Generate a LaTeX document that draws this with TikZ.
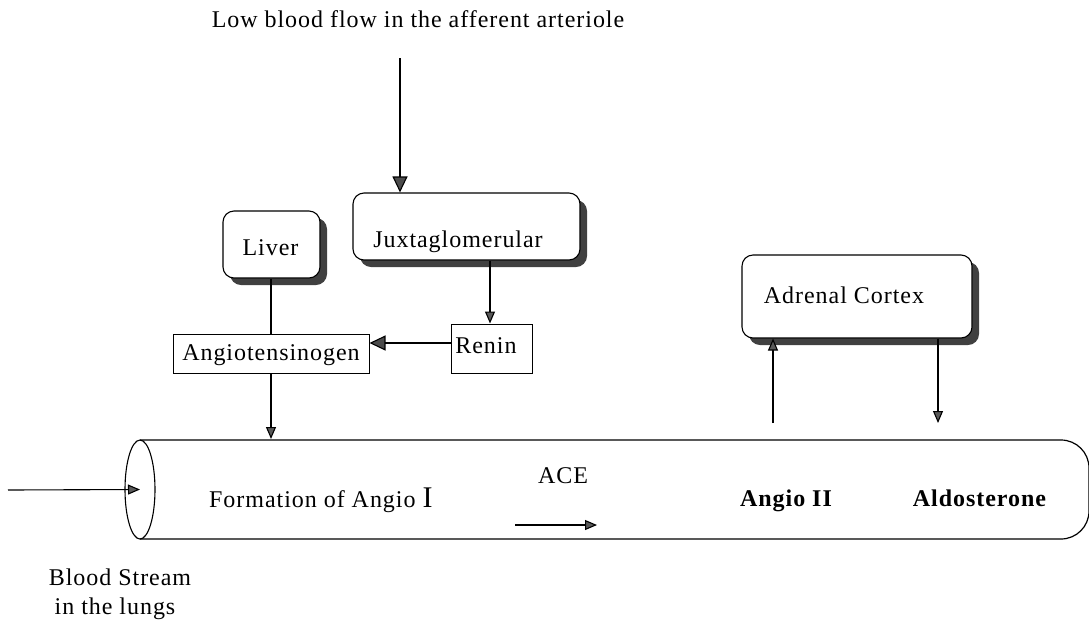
\documentclass[tikz,border=0pt]{standalone}
\usepackage{fontspec}
\setmainfont{Liberation Serif}[LetterSpace=4]
\usetikzlibrary{arrows.meta,shadows,calc,shapes.geometric}
\tikzset{
  lbl/.style={inner sep=0pt, anchor=base, font=\fontsize{24}{28}\selectfont},
  boldlbl/.style={lbl, font=\fontsize{24}{28}\selectfont\bfseries},
  shbox/.style={draw, line width=1.1pt, rounded corners=11pt, fill=white, inner sep=0pt,
    drop shadow={shadow xshift=7pt, shadow yshift=-7pt, fill=black!75, opacity=1}},
  sqbox/.style={draw, line width=1pt, fill=white, inner sep=0pt},
  conn/.style={line width=1.1pt},
  bigtip/.style={conn, -{Triangle[length=16pt,width=15pt,fill=black!70]}},
  smalltip/.style={conn, -{Triangle[length=12pt,width=10pt,fill=black!65]}}
}
\begin{document}
\begin{tikzpicture}[x=1pt,y=-1pt]
\useasboundingbox (0,0) rectangle (1089,622);

% top text
\node[lbl] (low) at (418,27) {Low blood flow in the afferent arteriole};
\coordinate (lowstart) at (400,58);

% boxes with shadows
\node[shbox, minimum width=227pt, minimum height=67pt] (juxta) at (466.5,226.5) {};
\node[lbl] (juxtat) at (458,247) {Juxtaglomerular};
\node[shbox, minimum width=97pt, minimum height=67pt] (liver) at (271.5,244.5) {};
\node[lbl] (livert) at (270.5,255) {Liver};
\node[shbox, minimum width=230pt, minimum height=83pt] (adrenal) at (857,296.5) {};
\node[lbl] (adrenalt) at (844,303) {Adrenal Cortex};

% square boxes
\node[sqbox, minimum width=196pt, minimum height=39pt] (angt) at (271,353.5) {};
\node[lbl] (angtt) at (271,360) {Angiotensinogen};
\node[sqbox, minimum width=81pt, minimum height=49pt] (renin) at (491.5,348.5) {};
\node[lbl] (relint) at (486,353) {Renin};

% cylinder
\coordinate (cylL) at (140,440);
\coordinate (cylTR) at (1089,440);
\coordinate (cylBR) at (1089,539);
\coordinate (cylBL) at (140,539);
\draw[line width=1.2pt, rounded corners=28pt] (cylL) -- (cylTR) -- (cylBR) -- (cylBL);
\node[draw, line width=1.1pt, ellipse, minimum width=30pt, minimum height=99pt, inner sep=0pt] (mouth) at (140,489.5) {};

% texts in the cylinder
\node[lbl, anchor=base west] (form) at (209,507) {Formation of Angio {\fontsize{30}{30}\selectfont I}};
\node[lbl] (ace) at (563,483) {ACE};
\node[boldlbl] (a2) at (786,506) {Angio II};
\node[boldlbl] (aldo) at (979.5,506) {Aldosterone};

% bottom text
\node[lbl] (bs1) at (120,585) {Blood Stream};
\node[lbl] (bs2) at (115,614) {in the lungs};

% connectors
\draw[bigtip] (lowstart) -- (juxta.north -| lowstart);
\draw[smalltip] (juxta.south -| 490,0) -- (renin.north -| 490,0);
\draw[bigtip] (renin.west |- 0,343) -- (angt.east |- 0,343);
\draw[conn] (liver.south -| 271,0) -- (angt.north -| 271,0);
\coordinate (angin) at (271,439);
\draw[smalltip] (angt.south) -- (angin);
\coordinate (inlet) at (8,490);
\draw[smalltip] (inlet) -- (mouth.center);
\coordinate (aceS) at (515,525);
\coordinate (aceE) at (597,525);
\draw[smalltip] (aceS) -- (aceE);
\coordinate (upS) at (773,423);
\draw[smalltip] (upS) -- (adrenal.south -| upS);
\coordinate (downE) at (938,423);
\draw[smalltip] (adrenal.south -| downE) -- (downE);
\end{tikzpicture}
\end{document}
